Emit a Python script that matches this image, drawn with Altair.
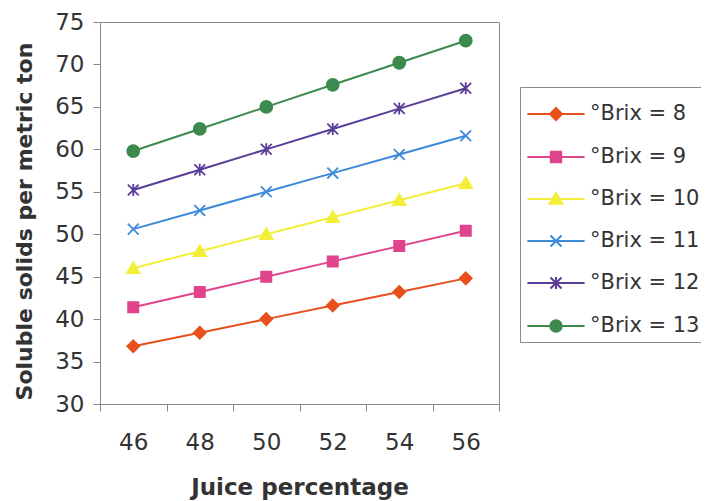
import altair as alt
import pandas as pd

juice = [46, 48, 50, 52, 54, 56]
labels = ["°Brix = 8", "°Brix = 9", "°Brix = 10", "°Brix = 11", "°Brix = 12", "°Brix = 13"]
brix8 = [36.8, 38.4, 40.0, 41.6, 43.2, 44.8]
brix9 = [41.4, 43.2, 45.0, 46.8, 48.6, 50.4]
brix10 = [46.0, 48.0, 50.0, 52.0, 54.0, 56.0]
brix11 = [50.6, 52.8, 55.0, 57.2, 59.4, 61.6]
brix12 = [55.2, 57.6, 60.0, 62.4, 64.8, 67.2]
brix13 = [59.8, 62.4, 65.0, 67.6, 70.2, 72.8]
series = [brix8, brix9, brix10, brix11, brix12, brix13]
colors = ["#e8501e", "#e0448c", "#f2ee3a", "#3c8ad8", "#5a3d96", "#3d8a4f"]
y_ticks = [30, 35, 40, 45, 50, 55, 60, 65, 70, 75]

rows = []
for lab, vals in zip(labels, series):
    for j, v in zip(juice, vals):
        rows.append({"juice": j, "value": v, "series": lab})
df = pd.DataFrame(rows)

marker_paths = [
    "M0,-1L1,0L0,1L-1,0Z",
    "M-0.85,-0.85H0.85V0.85H-0.85Z",
    "M0,-1L1.05,0.8L-1.05,0.8Z",
    "M-0.9,-0.9L0.9,0.9M-0.9,0.9L0.9,-0.9",
    "M-0.9,-0.9L0.9,0.9M-0.9,0.9L0.9,-0.9M0,-1L0,1",
    "circle",
]
seg = "M-2.6,0H2.6"
legend_paths = [
    seg + "M0,-0.55L0.55,0L0,0.55L-0.55,0Z",
    seg + "M-0.47,-0.47H0.47V0.47H-0.47Z",
    seg + "M0,-0.55L0.58,0.44L-0.58,0.44Z",
    seg + "M-0.5,-0.5L0.5,0.5M-0.5,0.5L0.5,-0.5",
    seg + "M-0.5,-0.5L0.5,0.5M-0.5,0.5L0.5,-0.5M0,-0.55L0,0.55",
    seg + "M0.52,0A0.52,0.52,0,1,1,-0.52,0A0.52,0.52,0,1,1,0.52,0Z",
]

FONT = "DejaVu Sans"
TXT = "#333333"
GRAY = "#8a8a8a"

x_enc = alt.X(
    "juice:O",
    scale=alt.Scale(type="band", paddingInner=0, paddingOuter=0),
    axis=alt.Axis(
        title="Juice percentage", labelAngle=0, tickBand="extent", tickSize=7,
        tickColor=GRAY, domainColor=GRAY, labelFont=FONT, labelFontSize=23,
        labelColor=TXT, labelPadding=20, titleFont=FONT, titleFontSize=23,
        titleFontWeight="bold", titleColor=TXT, titleY=83, titleBaseline="middle",
        grid=False,
    ),
)
y_enc = alt.Y(
    "value:Q",
    scale=alt.Scale(domain=[30, 75], nice=False, zero=False),
    axis=alt.Axis(
        title="Soluble solids per metric ton", values=y_ticks, tickSize=7,
        tickColor=GRAY, domainColor=GRAY, labelFont=FONT, labelFontSize=23,
        labelColor=TXT, labelPadding=9, titleFont=FONT, titleFontSize=22,
        titleFontWeight="bold", titleColor=TXT, titleX=-76, titleY=199,
        titleAlign="center", titleBaseline="middle", grid=False,
    ),
)


def cscale():
    return alt.Scale(domain=labels, range=colors)


base = alt.Chart(df)
lines = base.mark_line(strokeWidth=2).encode(
    x=x_enc, y=y_enc, color=alt.Color("series:N", scale=cscale(), legend=None)
)
points = base.mark_point(filled=True, size=144, strokeWidth=1.8, opacity=1).encode(
    x=x_enc, y=y_enc,
    color=alt.Color("series:N", scale=cscale(), legend=None),
    stroke=alt.Stroke("series:N", scale=cscale(), legend=None),
    shape=alt.Shape("series:N", scale=alt.Scale(domain=labels, range=marker_paths), legend=None),
)

leg = alt.Legend(
    orient="none", legendX=420, legendY=65, direction="vertical", padding=6,
    strokeColor=GRAY, fillColor="white", labelFont=FONT, labelFontSize=21,
    labelColor=TXT, symbolSize=484, symbolOffset=18, labelOffset=22,
    rowPadding=20, title=" ", titleFontSize=1, titlePadding=8,
    symbolStrokeWidth=2, labelLimit=300, symbolOpacity=1,
)
legend_layer = base.transform_filter("false").mark_point(filled=True, strokeWidth=2).encode(
    x=x_enc, y=y_enc,
    color=alt.Color("series:N", scale=cscale(), legend=leg),
    stroke=alt.Stroke("series:N", scale=cscale(), legend=leg),
    shape=alt.Shape("series:N", scale=alt.Scale(domain=labels, range=legend_paths), legend=leg),
)

chart = (
    alt.layer(lines, points, legend_layer)
    .resolve_scale(shape="independent", color="independent", stroke="independent")
    .properties(
        width=399, height=382,
        autosize=alt.AutoSizeParams(type="none"),
        padding={"left": 92, "top": 14, "right": 202, "bottom": 97},
        background="white",
    )
    .configure_view(stroke=GRAY, strokeWidth=1)
)

chart.save("out.html", embed_options={"renderer": "svg", "actions": False})
